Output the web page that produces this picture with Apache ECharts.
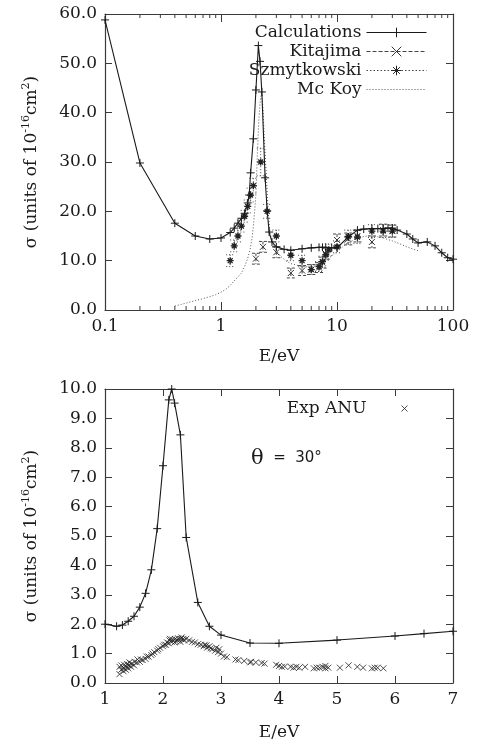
<!DOCTYPE html>
<html>
<head>
<meta charset="utf-8">
<script src="https://cdn.jsdelivr.net/npm/echarts@6/dist/echarts.min.js"></script>
<style>
  html, body { margin: 0; padding: 0; background: #fff; }
  #chart { width: 477px; height: 742px; }
</style>
</head>
<body>
<div id="chart"></div>
<script>
// ---- Upper panel: integral cross section vs energy (log energy axis) ----
const calcE = [0.1, 0.2, 0.4, 0.6, 0.8, 1.0, 1.2, 1.3, 1.4, 1.5, 1.6, 1.7, 1.75, 1.8, 1.9, 2.0, 2.1, 2.17, 2.25, 2.4, 2.5, 2.6, 2.75, 3.0, 3.5, 4.0, 5.0, 6.0, 7.0, 7.5, 8.0, 9.0, 10, 12.5, 15, 17, 20, 22.5, 25, 27.5, 30, 33, 40, 45, 50, 60, 70, 80, 90, 100];
const calcSigma = [58.8, 29.8, 17.6, 15.0, 14.4, 14.6, 15.7, 16.6, 17.6, 18.6, 19.6, 21.7, 23.3, 27.8, 34.7, 44.6, 53.6, 50.4, 44.2, 26.8, 20.1, 15.8, 13.8, 12.8, 12.3, 12.1, 12.4, 12.6, 12.7, 12.7, 12.7, 12.6, 12.6, 14.8, 16.2, 16.4, 16.5, 16.5, 16.5, 16.6, 16.6, 16.2, 15.4, 14.4, 13.6, 13.8, 13.0, 11.6, 10.6, 10.3];

const kitE = [2.0, 2.3, 3.0, 4.0, 5.0, 6.0, 7.0, 7.5, 8.0, 10, 12.5, 15, 20, 25, 30];
const kitSigma = [10.4, 12.8, 11.7, 7.5, 8.0, 8.2, 8.6, 9.6, 11.4, 14.2, 14.4, 15.0, 13.8, 16.2, 16.0];
const kitErr = [1.1, 1.1, 1.1, 1.0, 1.0, 1.0, 1.0, 1.1, 1.1, 1.2, 1.2, 1.2, 1.2, 1.2, 1.2];

const szE = [1.2, 1.3, 1.4, 1.5, 1.6, 1.7, 1.8, 1.9, 2.2, 2.5, 3.0, 4.0, 5.0, 6.0, 7.0, 7.5, 8.0, 8.5, 10, 12.5, 15, 20, 25, 30];
const szSigma = [10.0, 13.0, 15.0, 17.0, 19.0, 21.0, 23.3, 25.2, 30.0, 20.0, 15.0, 11.1, 10.0, 8.2, 8.8, 9.8, 11.2, 12.2, 12.8, 14.9, 14.8, 16.0, 16.0, 16.0];
const szErr = [1.2, 1.2, 1.2, 1.2, 1.2, 1.3, 1.4, 1.5, 2.8, 1.4, 1.2, 1.1, 1.1, 1.0, 1.0, 1.1, 1.1, 1.2, 1.2, 1.3, 1.3, 1.3, 1.3, 1.3];

const mckE = [0.4, 0.5, 0.6, 0.7, 0.8, 0.9, 1.0, 1.1, 1.2, 1.3, 1.4, 1.5, 1.6, 1.7, 1.78, 1.85, 1.9, 1.95, 2.0, 2.06, 2.12, 2.18, 2.24, 2.3, 2.35, 2.45, 2.55, 2.65, 2.8, 3.0, 3.3, 3.6, 4.0, 5.0, 6.0, 7.0, 8.0, 10, 12, 15, 18, 20, 25, 30, 35, 40, 50];
const mckSigma = [0.8, 1.4, 1.9, 2.3, 2.7, 3.1, 3.6, 4.2, 5.0, 5.9, 6.7, 7.5, 8.8, 10.5, 12.2, 14.5, 17.0, 20.0, 23.5, 32.0, 38.5, 42.5, 44.0, 41.0, 36.0, 28.0, 20.0, 15.5, 13.3, 12.0, 10.8, 10.0, 9.4, 8.8, 8.7, 9.2, 10.0, 11.8, 13.4, 14.6, 15.0, 15.1, 14.6, 14.0, 13.4, 12.8, 12.0];

const logMajor = [0.1, 1, 10, 100];
const logMinor = [0.2, 0.3, 0.4, 0.5, 0.6, 0.7, 0.8, 0.9, 2, 3, 4, 5, 6, 7, 8, 9, 20, 30, 40, 50, 60, 70, 80, 90];
const topYMin = 0, topYMax = 60;

// ---- Lower panel: differential cross section at 30 degrees ----
const dcsE = [1.0, 1.2, 1.3, 1.4, 1.5, 1.6, 1.7, 1.8, 1.9, 2.0, 2.1, 2.15, 2.2, 2.3, 2.4, 2.6, 2.8, 3.0, 3.5, 4.0, 5.0, 6.0, 6.5, 7.0];
const dcsSigma = [2.0, 1.93, 1.97, 2.1, 2.27, 2.58, 3.05, 3.85, 5.25, 7.39, 9.63, 10.0, 9.52, 8.44, 4.95, 2.74, 1.93, 1.63, 1.36, 1.35, 1.46, 1.6, 1.68, 1.76];

const anuE = [1.25, 1.25, 1.28, 1.28, 1.32, 1.32, 1.33, 1.36, 1.37, 1.38, 1.4, 1.41, 1.42, 1.45, 1.46, 1.5, 1.51, 1.55, 1.56, 1.6, 1.62, 1.65, 1.7, 1.72, 1.75, 1.8, 1.82, 1.85, 1.9, 1.92, 1.95, 2.0, 2.02, 2.05, 2.07, 2.1, 2.11, 2.12, 2.15, 2.16, 2.2, 2.21, 2.22, 2.25, 2.26, 2.3, 2.31, 2.32, 2.35, 2.36, 2.4, 2.45, 2.5, 2.55, 2.6, 2.65, 2.7, 2.72, 2.75, 2.76, 2.8, 2.82, 2.85, 2.9, 2.92, 2.95, 2.97, 3.0, 3.05, 3.1, 3.25, 3.3, 3.4, 3.5, 3.52, 3.6, 3.7, 3.75, 3.95, 4.0, 4.05, 4.1, 4.2, 4.25, 4.3, 4.35, 4.45, 4.6, 4.65, 4.7, 4.75, 4.8, 4.8, 4.85, 5.05, 5.2, 5.35, 5.45, 5.6, 5.65, 5.7, 5.8];
const anuSigma = [0.3, 0.55, 0.45, 0.6, 0.4, 0.5, 0.62, 0.45, 0.55, 0.65, 0.5, 0.6, 0.7, 0.55, 0.66, 0.6, 0.72, 0.7, 0.8, 0.72, 0.8, 0.78, 0.82, 0.9, 0.9, 0.95, 1.0, 1.05, 1.1, 1.15, 1.2, 1.25, 1.3, 1.3, 1.38, 1.35, 1.45, 1.5, 1.4, 1.48, 1.38, 1.5, 1.42, 1.45, 1.52, 1.4, 1.5, 1.55, 1.5, 1.45, 1.5, 1.45, 1.4, 1.38, 1.32, 1.3, 1.25, 1.3, 1.28, 1.2, 1.25, 1.18, 1.15, 1.1, 1.2, 1.05, 1.15, 1.0, 0.9, 0.88, 0.8, 0.78, 0.75, 0.7, 0.72, 0.7, 0.68, 0.66, 0.62, 0.58, 0.55, 0.56, 0.55, 0.52, 0.55, 0.52, 0.55, 0.5, 0.52, 0.52, 0.55, 0.5, 0.58, 0.52, 0.52, 0.6, 0.55, 0.52, 0.5, 0.52, 0.52, 0.5];

const zip = (a, b) => a.map((v, i) => [v, b[i]]);
const zip3 = (a, b, c) => a.map((v, i) => [v, b[i], c[i]]);

// stroke-only point glyphs
const PLUS = 'path://M0,5L10,5M5,0L5,10';
const CROSS = 'path://M0,0L10,10M10,0L0,10';
const STAR = 'path://M0,5L10,5M5,0L5,10M1.5,1.5L8.5,8.5M8.5,1.5L1.5,8.5';

const INK = '#1a1a1a';
const FRAME = '#3a3a3a';
const SERIF = 'DejaVu Serif';

const sigmaName = '{a|σ (units of 10}{s|-16}{a|cm}{s|2}{a|)}';
const nameRich = {
  a: { fontFamily: SERIF, fontSize: 17, color: INK, lineHeight: 22 },
  s: { fontFamily: SERIF, fontSize: 11, color: INK, lineHeight: 22, verticalAlign: 'top' }
};

function frameAxis(base) {
  return Object.assign({
    axisLine: { show: true, onZero: false, lineStyle: { color: FRAME, width: 1.2 } },
    axisTick: { show: true, inside: true, length: 7, lineStyle: { color: FRAME, width: 1 } },
    splitLine: { show: false },
    axisLabel: { show: false }
  }, base);
}

// error bars: vertical segment with caps, built from (x, y, err)
function errorBars(dash) {
  return function (params, api) {
    const x = api.value(0), y = api.value(1), e = api.value(2);
    const hi = api.coord([x, y + e]);
    const lo = api.coord([x, y - e]);
    const w = 4;
    const style = { stroke: '#444', lineWidth: 1, lineDash: dash };
    return {
      type: 'group',
      children: [
        { type: 'line', shape: { x1: hi[0], y1: hi[1], x2: lo[0], y2: lo[1] }, style },
        { type: 'line', shape: { x1: hi[0] - w, y1: hi[1], x2: hi[0] + w, y2: hi[1] }, style },
        { type: 'line', shape: { x1: lo[0] - w, y1: lo[1], x2: lo[0] + w, y2: lo[1] }, style }
      ]
    };
  };
}

// minor decade ticks (2..9 of each decade) on the bottom and top frame edges
function minorLogTicks(params, api) {
  const v = api.value(0);
  const b = api.coord([v, topYMin]);
  const t = api.coord([v, topYMax]);
  const style = { stroke: FRAME, lineWidth: 1 };
  return {
    type: 'group',
    children: [
      { type: 'line', shape: { x1: b[0], y1: b[1], x2: b[0], y2: b[1] - 4 }, style },
      { type: 'line', shape: { x1: t[0], y1: t[1], x2: t[0], y2: t[1] + 4 }, style }
    ]
  };
}

const chart = echarts.init(document.getElementById('chart'), null, { renderer: 'canvas' });

const option = {
  backgroundColor: '#ffffff',
  animation: false,
  textStyle: { fontFamily: SERIF, color: INK },
  grid: [
    { left: 105, top: 14, width: 348, height: 296 },
    { left: 105, top: 389, width: 348, height: 295 }
  ],
  legend: [
    {
      orient: 'vertical', right: 45, top: 19, align: 'right',
      itemWidth: 60, itemHeight: 12, itemGap: 2,
      textStyle: { fontFamily: SERIF, fontSize: 17, color: INK, lineHeight: 17 },
      itemStyle: { borderWidth: 1 },
      lineStyle: { width: 1 },
      data: [
        { name: 'Calculations' },
        { name: 'Kitajima', lineStyle: { opacity: 1, width: 1, type: [4, 2], color: '#444' } },
        { name: 'Szmytkowski', lineStyle: { opacity: 1, width: 1, type: [1.5, 2], color: '#444' } },
        { name: 'Mc Koy', itemStyle: { opacity: 0 } }
      ]
    },
    {
      orient: 'vertical', right: 64, top: 395, align: 'right',
      itemWidth: 66, itemHeight: 6,
      textStyle: { fontFamily: SERIF, fontSize: 17, color: INK, lineHeight: 17 },
      itemStyle: { borderWidth: 1 },
      data: ['Exp ANU']
    }
  ],
  xAxis: [
    frameAxis({
      gridIndex: 0, type: 'log', logBase: 10, min: 0.1, max: 100, position: 'bottom',
      axisTick: { show: true, inside: true, length: 8, customValues: logMajor, lineStyle: { color: FRAME } },
      axisLabel: { show: true, customValues: logMajor, margin: 8, fontFamily: SERIF, fontSize: 17, color: INK,
        formatter: v => String(Math.round(v * 10) / 10) },
      name: 'E/eV', nameLocation: 'middle', nameGap: 38,
      nameTextStyle: { fontFamily: SERIF, fontSize: 17, color: INK }
    }),
    frameAxis({
      gridIndex: 0, type: 'log', logBase: 10, min: 0.1, max: 100, position: 'top',
      axisTick: { show: true, inside: true, length: 8, customValues: logMajor, lineStyle: { color: FRAME } }
    }),
    frameAxis({
      gridIndex: 1, type: 'value', min: 1, max: 7, interval: 1, position: 'bottom',
      axisLabel: { show: true, margin: 8, fontFamily: SERIF, fontSize: 17, color: INK },
      name: 'E/eV', nameLocation: 'middle', nameGap: 41,
      nameTextStyle: { fontFamily: SERIF, fontSize: 17, color: INK }
    }),
    frameAxis({ gridIndex: 1, type: 'value', min: 1, max: 7, interval: 1, position: 'top' })
  ],
  yAxis: [
    frameAxis({
      gridIndex: 0, type: 'value', min: topYMin, max: topYMax, interval: 10, position: 'left',
      axisLabel: { show: true, margin: 8, fontFamily: SERIF, fontSize: 17, color: INK, formatter: v => v.toFixed(1) },
      name: sigmaName, nameLocation: 'middle', nameGap: 62, nameRotate: 90,
      nameTextStyle: { rich: nameRich }
    }),
    frameAxis({ gridIndex: 0, type: 'value', min: topYMin, max: topYMax, interval: 10, position: 'right' }),
    frameAxis({
      gridIndex: 1, type: 'value', min: 0, max: 10, interval: 1, position: 'left',
      axisLabel: { show: true, margin: 8, fontFamily: SERIF, fontSize: 17, color: INK, formatter: v => v.toFixed(1) },
      name: sigmaName, nameLocation: 'middle', nameGap: 62, nameRotate: 90,
      nameTextStyle: { rich: nameRich }
    }),
    frameAxis({ gridIndex: 1, type: 'value', min: 0, max: 10, interval: 1, position: 'right' })
  ],
  graphic: [
    {
      type: 'text', left: 251, top: 448, silent: true,
      style: {
        text: '{t|θ}{s|  =  30°}',
        rich: {
          t: { fontFamily: SERIF, fontSize: 21, fill: INK },
          s: { fontFamily: 'DejaVu Sans', fontSize: 15, fill: INK }
        }
      }
    }
  ],
  series: [
    {
      name: 'minor ticks', type: 'custom', xAxisIndex: 0, yAxisIndex: 0, silent: true, clip: false,
      data: logMinor.map(v => [v, topYMin]), encode: { x: 0, y: 1 },
      renderItem: minorLogTicks, z: 1
    },
    {
      name: 'Mc Koy', type: 'line', xAxisIndex: 0, yAxisIndex: 0,
      data: zip(mckE, mckSigma), showSymbol: false, symbol: 'none',
      lineStyle: { color: '#555', width: 1, type: [1, 2] }, itemStyle: { color: '#555' }, z: 2
    },
    {
      name: 'Kitajima-err', type: 'custom', xAxisIndex: 0, yAxisIndex: 0,
      data: zip3(kitE, kitSigma, kitErr), encode: { x: 0, y: 1 },
      renderItem: errorBars([3, 2]), z: 3
    },
    {
      name: 'Szmytkowski-err', type: 'custom', xAxisIndex: 0, yAxisIndex: 0,
      data: zip3(szE, szSigma, szErr), encode: { x: 0, y: 1 },
      renderItem: errorBars([1, 2]), z: 3
    },
    {
      name: 'Kitajima', type: 'line', xAxisIndex: 0, yAxisIndex: 0,
      data: zip(kitE, kitSigma), symbol: CROSS, symbolSize: 6,
      lineStyle: { opacity: 0, color: '#444' },
      itemStyle: { color: '#333', borderColor: '#333', borderWidth: 1 }, z: 4
    },
    {
      name: 'Szmytkowski', type: 'line', xAxisIndex: 0, yAxisIndex: 0,
      data: zip(szE, szSigma), symbol: STAR, symbolSize: 7,
      lineStyle: { opacity: 0, color: '#444' },
      itemStyle: { color: '#222', borderColor: '#222', borderWidth: 1.3 }, z: 4
    },
    {
      name: 'Calculations', type: 'line', xAxisIndex: 0, yAxisIndex: 0,
      data: zip(calcE, calcSigma), symbol: PLUS, symbolSize: 8,
      lineStyle: { color: INK, width: 1.1 },
      itemStyle: { color: INK, borderColor: INK, borderWidth: 1 }, z: 5
    },
    {
      name: 'Calculations θ30', type: 'line', xAxisIndex: 2, yAxisIndex: 2,
      data: zip(dcsE, dcsSigma), symbol: PLUS, symbolSize: 8,
      lineStyle: { color: INK, width: 1.1 },
      itemStyle: { color: INK, borderColor: INK, borderWidth: 1 }, z: 5
    },
    {
      name: 'Exp ANU', type: 'scatter', xAxisIndex: 2, yAxisIndex: 2,
      data: zip(anuE, anuSigma), symbol: CROSS, symbolSize: 6,
      itemStyle: { color: '#222', borderColor: '#222', borderWidth: 1 }, z: 4
    }
  ]
};

chart.setOption(option);
</script>
</body>
</html>
